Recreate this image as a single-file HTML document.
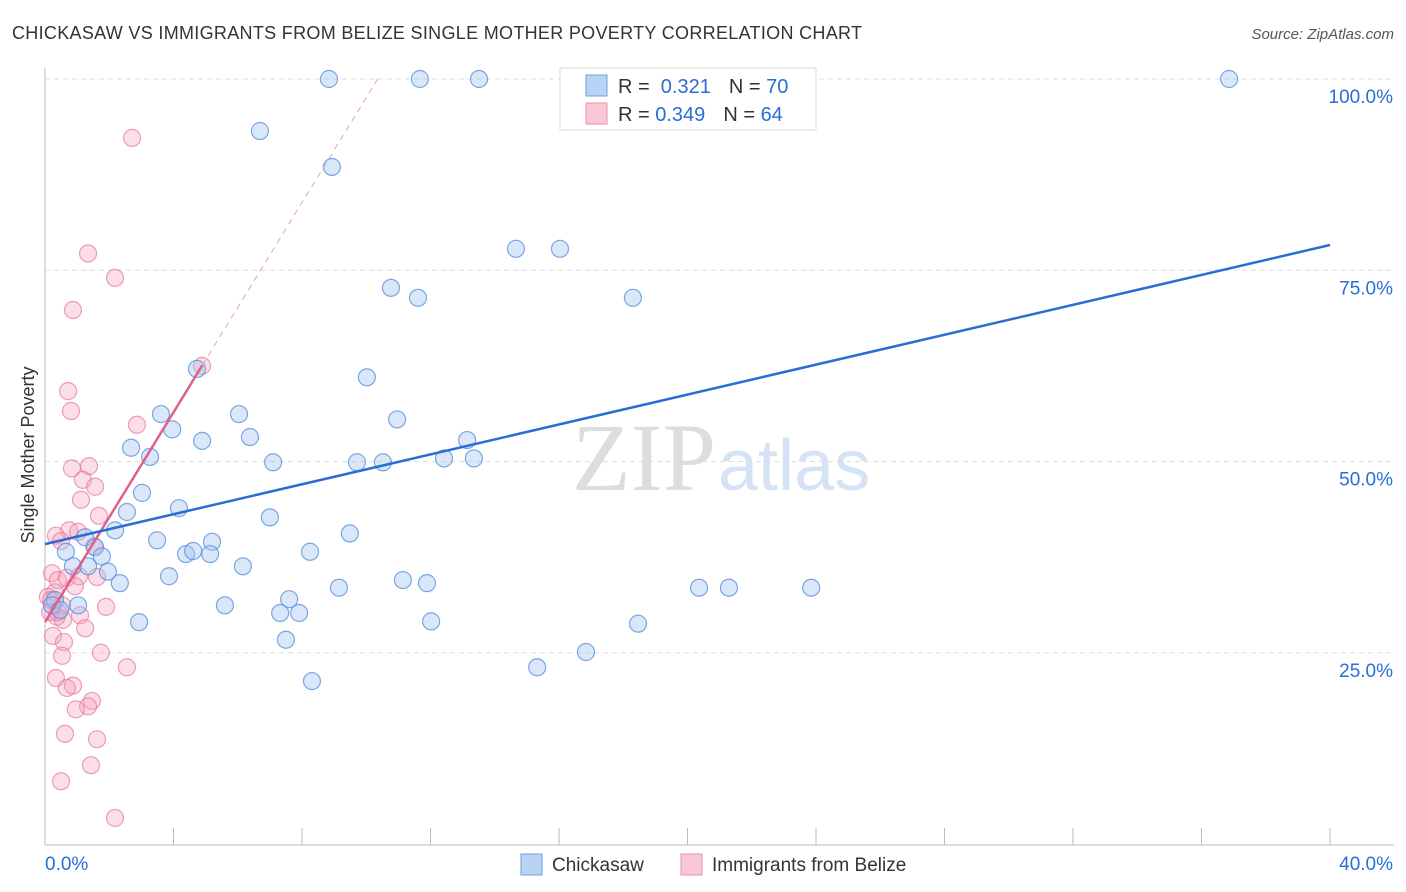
<!DOCTYPE html>
<html><head><meta charset="utf-8"><style>
body{margin:0;background:#fff;font-family:"Liberation Sans",sans-serif;}
svg{display:block}
</style></head><body>
<svg id="chart" width="1406" height="892">
<text x="12" y="39" font-size="18" fill="#333" textLength="850" lengthAdjust="spacing">CHICKASAW VS IMMIGRANTS FROM BELIZE SINGLE MOTHER POVERTY CORRELATION CHART</text>
<text x="1394" y="39" font-size="15" fill="#555" font-style="italic" text-anchor="end">Source: ZipAtlas.com</text>
<text x="0" y="0" transform="translate(34,455) rotate(-90)" font-size="18" fill="#333" text-anchor="middle">Single Mother Poverty</text>
<text x="716" y="490" font-size="96" fill="#ddd" text-anchor="end" font-family="Liberation Serif,serif">ZIP</text>
<text x="718" y="490" font-size="72" fill="#d4e3f5">atlas</text>
<g id="grid"></g><g id="marks"></g>
<g>
<rect x="560" y="68" width="256" height="62" fill="#fff" stroke="#ddd"/>
<rect x="586" y="75" width="21" height="21" fill="#b9d3f3" stroke="#6f9fe0"/>
<rect x="586" y="103" width="21" height="21" fill="#f9c7d6" stroke="#e890ab"/>
<text x="618" y="93" font-size="20" fill="#333">R = <tspan fill="#2a6dd6">&#160;0.321</tspan><tspan dx="18">N = </tspan><tspan fill="#2a6dd6">70</tspan></text>
<text x="618" y="121" font-size="20" fill="#333">R = <tspan fill="#2a6dd6">0.349</tspan><tspan dx="18">N = </tspan><tspan fill="#2a6dd6">64</tspan></text>
</g>
<g>
<rect x="521" y="854" width="21" height="21" fill="#b9d3f3" stroke="#6f9fe0"/>
<text x="552" y="871" font-size="19" fill="#333">Chickasaw</text>
<rect x="681" y="854" width="21" height="21" fill="#f9c7d6" stroke="#e890ab"/>
<text x="712" y="871" font-size="19" fill="#333">Immigrants from Belize</text>
</g>
</svg>
<script>
const blueX=[8.84,11.67,13.51,36.86,6.69,8.93,14.66,16.03,10.77,11.61,18.30,4.73,10.02,3.61,6.04,10.96,3.96,6.38,4.89,13.14,2.68,3.27,12.42,13.35,7.10,9.71,10.52,3.02,4.17,2.55,7.00,2.18,1.25,9.49,3.49,5.20,4.39,4.61,5.14,8.25,0.65,1.56,1.77,0.87,1.34,6.16,1.96,3.86,11.14,11.89,2.33,9.15,20.36,21.29,23.85,7.60,1.03,0.31,5.60,7.32,7.91,2.93,12.02,18.46,7.50,16.84,15.32,8.31,0.22,0.47];
const blueY=[100,100,100,100,93.2,88.5,77.8,77.8,72.7,71.4,71.4,62.1,61.0,56.2,56.2,55.5,54.2,53.2,52.7,52.8,51.8,50.6,50.4,50.4,49.9,49.9,49.9,45.9,43.9,43.4,42.7,41.0,40.1,40.6,39.7,39.5,37.9,38.3,37.9,38.2,38.2,38.8,37.6,36.3,36.3,36.3,35.6,35.0,34.5,34.1,34.1,33.5,33.5,33.5,33.5,32.0,31.2,31.9,31.2,30.2,30.2,29.0,29.1,28.8,26.7,25.1,23.1,21.3,31.2,30.6];
const pinkX=[2.71,1.34,2.18,0.87,4.89,0.72,0.81,2.86,0.84,1.37,1.18,1.56,1.12,1.68,0.75,0.34,1.03,0.50,1.53,0.22,0.40,0.68,1.06,1.62,0.93,0.31,0.09,0.53,0.16,0.37,0.56,1.09,1.90,1.25,0.25,0.59,0.53,1.74,2.55,0.34,0.87,0.68,1.46,1.34,0.96,0.62,1.62,1.43,0.50,2.18,0.19,0.40];
const pinkY=[92.3,77.2,74.0,69.8,62.5,59.2,56.6,54.8,49.1,49.4,47.6,46.7,45.0,42.9,41.0,40.3,40.8,39.6,38.9,35.4,34.5,34.8,35.0,34.9,33.7,32.9,32.3,31.2,30.3,29.7,29.3,29.9,31.0,28.2,27.2,26.4,24.6,25.0,23.1,21.7,20.7,20.4,18.7,18.0,17.6,14.4,13.7,10.3,8.2,3.4,31.9,30.3];
const blueLine=[39.2,78.3];
const pinkLine=[29.0,62.6];
const yTicks=[25,50,75,100];
const NS='http://www.w3.org/2000/svg';
const sx=v=>45+v/40*1285, sy=v=>844-v*7.65;
function mk(t,a,p){const e=document.createElementNS(NS,t);for(const k in a)e.setAttribute(k,a[k]);p.appendChild(e);return e;}
const g=document.getElementById('grid'),m=document.getElementById('marks');
mk('line',{x1:45,y1:68,x2:45,y2:845,stroke:'#bbb'},g);
mk('line',{x1:45,y1:845,x2:1394,y2:845,stroke:'#bbb'},g);
for(let i=1;i<=10;i++){mk('line',{x1:sx(i*4),y1:828,x2:sx(i*4),y2:845,stroke:'#bbb'},g);}
yTicks.forEach(t=>{const l=mk('line',{x1:45,y1:sy(t),x2:1394,y2:sy(t),stroke:'#ddd','stroke-dasharray':'5,4'},g);


const tx=mk('text',{x:1393,y:sy(t)+24,'font-size':19,fill:'#2a6dd6','text-anchor':'end'},g);tx.textContent=t.toFixed(1)+'%';

});
const x0=mk('text',{x:45,y:870,'font-size':19,fill:'#2a6dd6'},g);x0.textContent='0.0%';


const x1=mk('text',{x:1393,y:870,'font-size':19,fill:'#2a6dd6','text-anchor':'end'},g);x1.textContent='40.0%';


pinkX.forEach((v,i)=>{const c=mk('circle',{cx:sx(v),cy:sy(pinkY[i]),r:8.5,fill:'rgba(245,160,185,0.35)',stroke:'rgba(230,120,155,0.7)','stroke-width':1.2},m);

});
blueX.forEach((v,i)=>{const c=mk('circle',{cx:sx(v),cy:sy(blueY[i]),r:8.5,fill:'rgba(160,195,240,0.4)',stroke:'rgba(80,140,220,0.75)','stroke-width':1.2},m);

});
const slope=(pinkLine[1]-pinkLine[0])/4.9;
const xEnd=(100-pinkLine[0])/slope;
const dl=mk('line',{x1:sx(4.9),y1:sy(pinkLine[1]),x2:sx(xEnd),y2:sy(100),stroke:'#e8a0b8','stroke-dasharray':'6,5'},m);


const pl=mk('line',{x1:sx(0),y1:sy(pinkLine[0]),x2:sx(4.9),y2:sy(pinkLine[1]),stroke:'#e0608a','stroke-width':2.5},m);


const bl=mk('line',{x1:sx(0),y1:sy(blueLine[0]),x2:sx(40),y2:sy(blueLine[1]),stroke:'#2a6dd6','stroke-width':2.5},m);


</script>
</body></html>
